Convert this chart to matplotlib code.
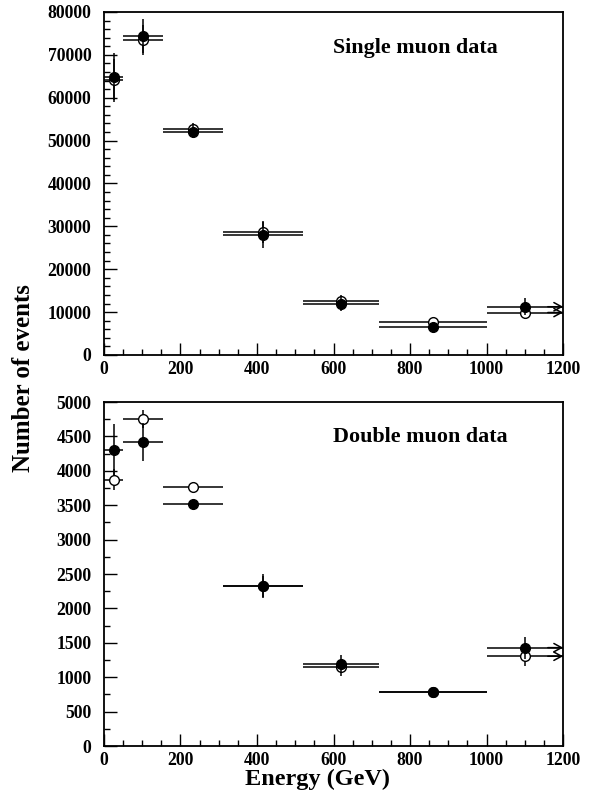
import numpy as np
import matplotlib
matplotlib.use("Agg")
import matplotlib.pyplot as plt
from matplotlib.ticker import MultipleLocator

plt.rcParams['font.family'] = ['Liberation Serif', 'DejaVu Serif']
plt.rcParams['font.weight'] = 'bold'

# Energy bins (GeV); the last bin is open-ended (overflow)
bin_lo = np.array([0, 50, 155, 310, 520, 720, 1000])
bin_hi = np.array([50, 155, 310, 520, 720, 1000, 1200])
bin_x = np.array([25, 103, 233, 415, 620, 860, 1100])

# Single muon data
single_open = np.array([64100, 73400, 52800, 28700, 12650, 7750, 9900])
single_open_err = np.array([5000, 3500, 1200, 2500, 1300, 600, 1500])
single_filled = np.array([64900, 74400, 52050, 28000, 11900, 6600, 11250])
single_filled_err = np.array([5500, 4000, 1500, 3000, 1700, 700, 2000])

# Double muon data
double_open = np.array([3870, 4750, 3770, 2320, 1145, 790, 1305])
double_open_err = np.array([150, 130, 40, 150, 120, 40, 140])
double_filled = np.array([4300, 4420, 3515, 2325, 1190, 790, 1430])
double_filled_err = np.array([380, 270, 40, 180, 130, 40, 160])

fig = plt.figure(figsize=(5.94, 7.95), dpi=100)
ax1 = fig.add_axes([0.175, 0.5535, 0.773, 0.4315])
ax2 = fig.add_axes([0.175, 0.0616, 0.773, 0.4327])


def draw_series(ax, y, yerr, face):
    xerr = [bin_x - bin_lo, bin_hi - bin_x]
    ax.errorbar(bin_x, y, yerr=yerr, xerr=xerr, fmt='o', color='black',
                mfc=face, mec='black', ms=7, mew=1.0, elinewidth=1.1,
                capsize=0, zorder=3 if face == 'black' else 2)
    # overflow arrow on the last bin
    ax.annotate('', xy=(bin_hi[-1], y[-1]), xytext=(bin_hi[-1] - 40, y[-1]),
                arrowprops=dict(arrowstyle='->,head_length=0.55,head_width=0.3',
                                lw=1.1, color='black', shrinkA=0, shrinkB=0),
                annotation_clip=False)


def style_axes(ax, ymax, ymajor, yminor):
    ax.set_xlim(0, 1200)
    ax.set_ylim(0, ymax)
    ax.xaxis.set_major_locator(MultipleLocator(200))
    ax.xaxis.set_minor_locator(MultipleLocator(50))
    ax.yaxis.set_major_locator(MultipleLocator(ymajor))
    ax.yaxis.set_minor_locator(MultipleLocator(yminor))
    ax.tick_params(which='both', direction='in', top=False, right=False,
                   labelsize=12.7, width=1.0)
    ax.tick_params(which='major', length=9)
    ax.tick_params(which='minor', length=4.5)
    ax.tick_params(axis='y', pad=9)
    ax.tick_params(axis='x', pad=4.5)
    for s in ax.spines.values():
        s.set_linewidth(1.3)
    for lab in ax.get_xticklabels() + ax.get_yticklabels():
        lab.set_fontweight('bold')


draw_series(ax1, single_open, single_open_err, 'white')
draw_series(ax1, single_filled, single_filled_err, 'black')
style_axes(ax1, 80000, 10000, 2000)
ax1.text(0.499, 0.895, 'Single muon data', transform=ax1.transAxes,
         fontsize=15.8, fontweight='bold', va='center', ha='left')

draw_series(ax2, double_open, double_open_err, 'white')
draw_series(ax2, double_filled, double_filled_err, 'black')
style_axes(ax2, 5000, 500, 250)
ax2.text(0.499, 0.898, 'Double muon data', transform=ax2.transAxes,
         fontsize=15.8, fontweight='bold', va='center', ha='left')

fig.text(0.040, 0.524, 'Number of events', rotation=90, fontsize=17.9,
         fontweight='bold', ha='center', va='center')
fig.text(0.5345, 0.019, 'Energy (GeV)', fontsize=17.5, fontweight='bold',
         ha='center', va='center')

fig.savefig('out.png', dpi=100)
